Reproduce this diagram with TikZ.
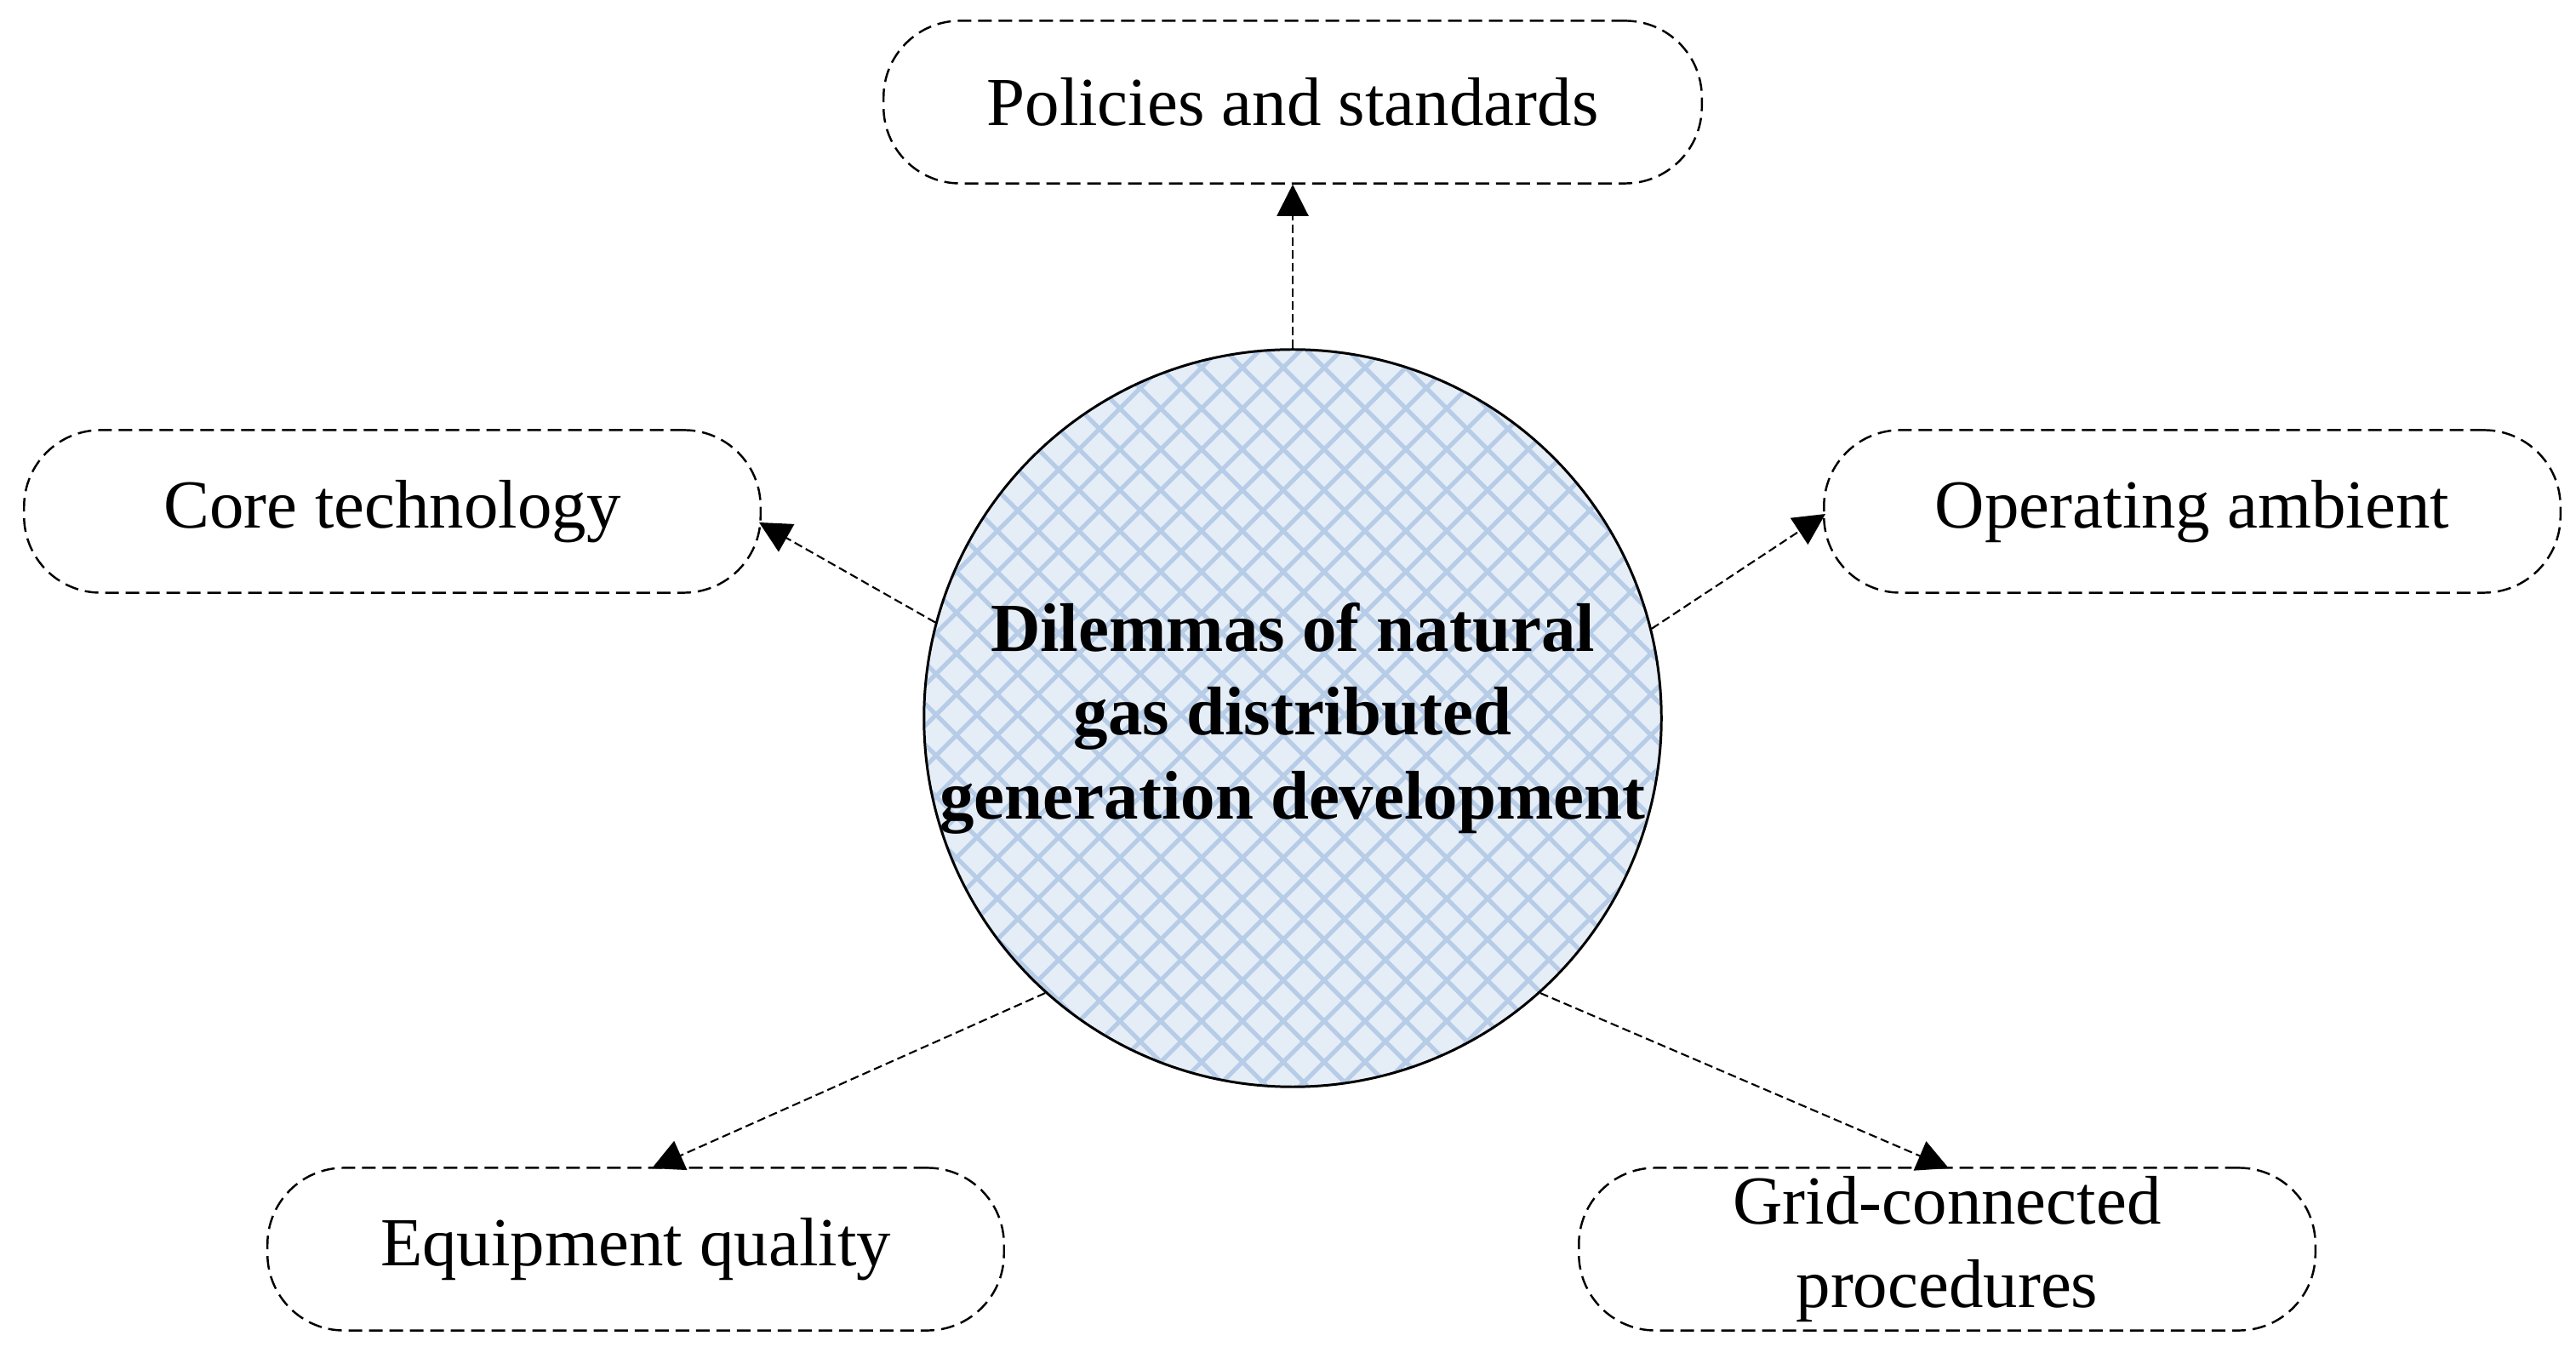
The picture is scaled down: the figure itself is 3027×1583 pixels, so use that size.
\documentclass[tikz,border=0pt]{standalone}
\usepackage{fontspec}
\setmainfont{Liberation Serif}
\usetikzlibrary{arrows.meta}
\definecolor{patbg}{RGB}{229,237,247}
\definecolor{patln}{RGB}{182,204,231}
\tikzset{
  topic/.style={draw, line width=0.7pt, dash pattern=on 0.16cm off 0.08cm, rectangle,
    rounded corners=0.9cm, minimum height=1.91cm, minimum width=8.65cm,
    align=center, font=\fontsize{23}{28}\selectfont, inner sep=0pt},
  link/.style={line width=0.6pt, dash pattern=on 0.10cm off 0.05cm,
    -{Triangle[length=0.37cm,width=0.37cm]}},
}
\begin{document}
\begin{tikzpicture}[x={(0.01cm,0)}, y={(0,-0.01cm)}]
\useasboundingbox (0,0) rectangle (3027,1583);
% circle with lattice pattern
\begin{scope}
  \clip (1519,844) circle [radius=4.33cm];
  \fill[patbg] (1519,844) circle [radius=4.33cm];
  \foreach \c in {1700,1748,...,3020} {
    \draw[patln, line width=0.05cm] (\c-380,380) -- (\c-1310,1310);
  }
  \foreach \c in {20,68,...,1340} {
    \draw[patln, line width=0.05cm] (\c+380,380) -- (\c+1310,1310);
  }
\end{scope}
\node[circle, draw, line width=0.85pt, minimum size=8.66cm, inner sep=0pt] (c) at (1519,844) {};
\node[font=\fontsize{23}{28}\selectfont\bfseries, align=center] (ct) at (1519,844)
  {Dilemmas of natural\\gas distributed\\generation development};
% topic boxes
\node[topic, minimum width=9.61cm] (p) at (1519,120) {Policies and standards};
\node[topic] (k) at (461,601) {Core technology};
\node[topic] (o) at (2576,601) {Operating ambient};
\node[topic] (q) at (747,1468) {Equipment quality};
\node[topic] (g) at (2288,1468) {Grid-connected\\procedures};
% arrow end points
\coordinate (ek) at (892,614);
\coordinate (eo) at (2145,604);
\coordinate (eq) at (766,1373);
\coordinate (eg) at (2290,1373);
% connectors
\draw[link] (c.90) -- (p.south);
\draw[link] (c.165.5) -- (ek);
\draw[link] (c.14.5) -- (eo);
\draw[link] (c.228) -- (eq);
\draw[link] (c.312) -- (eg);
\end{tikzpicture}
\end{document}
